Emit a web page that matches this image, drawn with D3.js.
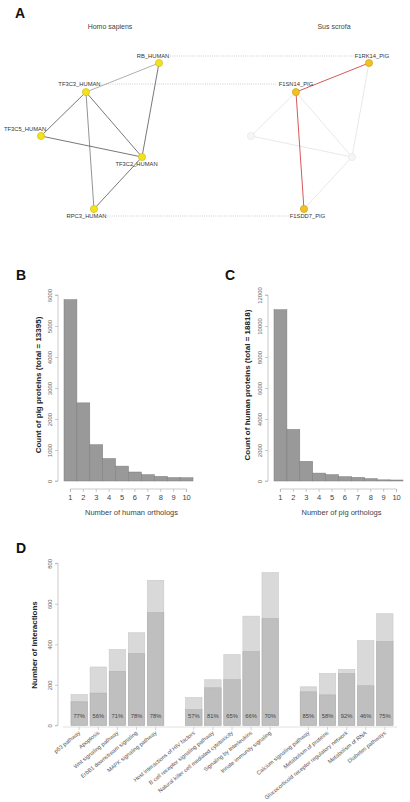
<!DOCTYPE html>
<html><head><meta charset="utf-8">
<script src="https://cdn.jsdelivr.net/npm/d3@7/dist/d3.min.js"></script>
<style>body{margin:0;background:#fff;}svg{display:block;font-family:"Liberation Sans",Arial,sans-serif;}</style>
</head><body>
<script>
// ---------- DATA ----------
// Panel A: network (layout coordinates in unit square)
const humanNodes = ["RB_HUMAN","TF3C3_HUMAN","TF3C5_HUMAN","TF3C2_HUMAN","RPC3_HUMAN"];
const pigNodes   = ["F1RK14_PIG","F1SN14_PIG","","","F1SDD7_PIG"];
const layoutX = [1.0, 0.381, 0.0, 0.856, 0.449];
const layoutY = [0.0, 0.199, 0.5, 0.644, 1.0];
const edges = [[0,1],[0,3],[1,2],[1,3],[1,4],[2,3],[3,4]];
const pigRedEdges = [[1,0],[1,4]];
const orthologPairs = [0,1,4];

// Panel B
const orthologCounts = [1,2,3,4,5,6,7,8,9,10];
const pigProteinCounts = [5850,2520,1170,725,480,290,205,150,110,105];
const pigYTicks = [0,1000,2000,3000,4000,5000,6000];
// Panel C
const humanProteinCounts = [11050,3330,1270,510,410,280,236,155,75,65];
const humanYTicks = [0,2000,4000,6000,8000,10000,12000];

// Panel D
const pathways = ["p53 pathway","Apoptosis","Wnt signaling pathway","ErbB1 downstream signaling","MAPK signaling pathway",
  "Host interactions of HIV factors","B cell receptor signaling pathway","Natural killer cell mediated cytotoxicity","Signaling by Interleukins","Innate immunity signaling",
  "Calcium signaling pathway","Metabolism of proteins","Glucocorticoid receptor regulatory network","Metabolism of RNA","Diabetes pathways"];
const pathwayGroup = [0,0,0,0,0,1,1,1,1,1,2,2,2,2,2];
const totalInteractions = [152,288,374,457,716,137,225,349,539,754,190,256,276,418,551];
const conservedInteractions = [116,159,266,354,556,77,185,225,364,527,165,150,255,195,413];
const percentLabels = ["77%","56%","71%","78%","78%","57%","81%","65%","66%","70%","85%","58%","92%","46%","75%"];
const dYTicks = [0,200,400,600,800];

// ---------- DRAW ----------
const W=410,H=802;
const svg=d3.select("body").append("svg").attr("width",W).attr("height",H);

function panelLabel(t,x,y){svg.append("text").attr("x",x).attr("y",y).attr("font-size",14).attr("font-weight","bold").attr("fill","#111").text(t);}

// ----- Panel A -----
panelLabel("A",15,18);
svg.append("text").attr("x",110).attr("y",29).attr("text-anchor","middle").attr("font-size",7).attr("fill","#444").text("Homo sapiens");
svg.append("text").attr("x",334).attr("y",29).attr("text-anchor","middle").attr("font-size",7).attr("fill","#444").text("Sus scrofa");

const ly=d3.scaleLinear().domain([0,1]).range([63,209]);
const hx=d3.scaleLinear().domain([0,1]).range([41,159]);
const px=d3.scaleLinear().domain([0,1]).range([251,369]);

const gLines=svg.append("g"), gEdges=svg.append("g"), gNodes=svg.append("g"), gLabels=svg.append("g");
const humanEdgeColor = (e)=> (e[0]===0&&e[1]===1)?"#9a9a9a":(e[0]===1&&e[1]===4)?"#777":"#555";
gEdges.selectAll(".he").data(edges).join("line")
  .attr("x1",d=>hx(layoutX[d[0]])).attr("y1",d=>ly(layoutY[d[0]]))
  .attr("x2",d=>hx(layoutX[d[1]])).attr("y2",d=>ly(layoutY[d[1]]))
  .attr("stroke",humanEdgeColor).attr("stroke-width",0.8);
const isRed=(e)=>pigRedEdges.some(r=>(r[0]===e[0]&&r[1]===e[1])||(r[0]===e[1]&&r[1]===e[0]));
gEdges.selectAll(".pe").data(edges.filter(e=>!isRed(e))).join("line")
  .attr("x1",d=>px(layoutX[d[0]])).attr("y1",d=>ly(layoutY[d[0]]))
  .attr("x2",d=>px(layoutX[d[1]])).attr("y2",d=>ly(layoutY[d[1]]))
  .attr("stroke","#e2e2e2").attr("stroke-width",0.8);
gEdges.selectAll(".pr").data(pigRedEdges).join("line")
  .attr("x1",d=>px(layoutX[d[0]])).attr("y1",d=>ly(layoutY[d[0]]))
  .attr("x2",d=>px(layoutX[d[1]])).attr("y2",d=>ly(layoutY[d[1]]))
  .attr("stroke","#d24545").attr("stroke-width",0.9);

gNodes.selectAll(".hn").data(humanNodes).join("circle")
  .attr("cx",(d,i)=>hx(layoutX[i])).attr("cy",(d,i)=>ly(layoutY[i])).attr("r",3.6)
  .attr("fill","#f3e21b").attr("stroke","#c9b818").attr("stroke-width",0.6);
gNodes.selectAll(".pn").data(pigNodes).join("circle")
  .attr("cx",(d,i)=>px(layoutX[i])).attr("cy",(d,i)=>ly(layoutY[i])).attr("r",3.6)
  .attr("fill",d=>d?"#efc121":"#f6f6f6").attr("stroke",d=>d?"#c79c18":"#e4e4e4").attr("stroke-width",0.6);

// label offsets (styling)
const hOff=[[-6,-5],[-6.5,-6],[-16,-5],[-5.5,8.5],[-7.5,9]];
const pOff=[[3,-5],[0,-6.5],[0,0],[0,0],[3.5,9]];
const hLab=gLabels.selectAll(".hl").data(humanNodes).join("text")
  .attr("x",(d,i)=>hx(layoutX[i])+hOff[i][0]).attr("y",(d,i)=>ly(layoutY[i])+hOff[i][1])
  .attr("text-anchor","middle").attr("font-size",5.8).attr("fill","#333").text(d=>d);
const pLab=gLabels.selectAll(".pl").data(pigNodes).join("text")
  .attr("x",(d,i)=>px(layoutX[i])+pOff[i][0]).attr("y",(d,i)=>ly(layoutY[i])+pOff[i][1])
  .attr("text-anchor","middle").attr("font-size",5.8).attr("fill","#333").text(d=>d);
const hN=hLab.nodes(), pN=pLab.nodes();
orthologPairs.forEach(i=>{
  const a=hN[i].getBBox(), b=pN[i].getBBox();
  const y=a.y+a.height/2;
  gLines.append("line").attr("x1",a.x+a.width+1).attr("x2",b.x-1).attr("y1",y).attr("y2",y)
    .attr("stroke","#999").attr("stroke-width",0.6).attr("stroke-dasharray","0.8,1.4");
});

// ----- Histograms -----
function histogram(opt){
  const x=d3.scaleBand().domain(orthologCounts).range(opt.xr).padding(0);
  const y=d3.scaleLinear().domain([0,opt.ymax]).range([481,295]);
  const g=svg.append("g");
  g.selectAll("rect").data(opt.values).join("rect")
    .attr("x",(d,i)=>x(orthologCounts[i])).attr("width",x.bandwidth())
    .attr("y",d=>y(d)).attr("height",d=>y(0)-y(d))
    .attr("fill","#999").attr("stroke","#7c7c7c").attr("stroke-width",0.5);
  const ya=g.append("g").attr("transform",`translate(${opt.yAxisX},0)`)
    .call(d3.axisLeft(y).tickValues(opt.yticks).tickSize(3).tickFormat(d3.format("d")));
  ya.select(".domain").attr("stroke","#aaa").attr("stroke-width",0.6).attr("d",`M-3,${y(0)}H0V${y(opt.ymax)}H-3`);
  ya.selectAll(".tick line").attr("stroke","#aaa").attr("stroke-width",0.6);
  ya.selectAll(".tick text").attr("fill","#666").attr("font-size",6).attr("text-anchor","middle")
    .attr("x",0).attr("y",0).attr("dy",0).attr("transform","translate(-6,0) rotate(-90)");
  const xa=g.append("g").attr("transform","translate(0,489)")
    .call(d3.axisBottom(x).tickSize(3).tickPadding(3));
  const x0=x(1)+x.bandwidth()/2, x1=x(10)+x.bandwidth()/2;
  xa.select(".domain").attr("stroke","#aaa").attr("stroke-width",0.6).attr("d",`M${x0},3V0H${x1}V3`);
  xa.selectAll(".tick line").attr("stroke","#aaa").attr("stroke-width",0.6);
  xa.selectAll(".tick text").attr("fill","#444").attr("font-size",7.5);
  g.append("text").attr("x",(opt.xr[0]+opt.xr[1])/2+3).attr("y",515).attr("text-anchor","middle")
    .attr("font-size",7.5).attr("fill","#444").text(opt.xlabel);
  g.append("text").attr("transform",`translate(${opt.ylabX},${opt.ylabY}) rotate(-90)`).attr("text-anchor","middle")
    .attr("font-size",8).attr("font-weight","bold").attr("fill","#222").text(opt.ylabel);
}
panelLabel("B",16,280);
histogram({xr:[64,193],ymax:6000,values:pigProteinCounts,yticks:pigYTicks,yAxisX:58,
  xlabel:"Number of human orthologs",ylabel:"Count of pig proteins (total = 13395)",ylabX:41,ylabY:385});
panelLabel("C",225,280);
histogram({xr:[274,403],ymax:12000,values:humanProteinCounts,yticks:humanYTicks,yAxisX:268,
  xlabel:"Number of pig orthologs",ylabel:"Count of human proteins (total = 18818)",ylabX:250,ylabY:385});

// ----- Panel D -----
panelLabel("D",16,553);
const slots=[];
pathways.forEach((p,i)=>{ if(i>0 && pathwayGroup[i]!==pathwayGroup[i-1]) slots.push("__gap"+i); slots.push(p); });
const xd=d3.scaleBand().domain(slots).range([69.66,69.66+17*19.1]).paddingInner(0.14).paddingOuter(0.07);
const yd=d3.scaleLinear().domain([0,800]).range([725.3,563.3]);
const gd=svg.append("g");
gd.selectAll(".tot").data(pathways).join("rect")
  .attr("x",d=>xd(d)).attr("width",xd.bandwidth())
  .attr("y",(d,i)=>yd(totalInteractions[i])).attr("height",(d,i)=>yd(0)-yd(totalInteractions[i]))
  .attr("fill","#d9d9d9").attr("stroke","#c9c9c9").attr("stroke-width",0.6);
gd.selectAll(".con").data(pathways).join("rect")
  .attr("x",d=>xd(d)).attr("width",xd.bandwidth())
  .attr("y",(d,i)=>yd(conservedInteractions[i])).attr("height",(d,i)=>yd(0)-yd(conservedInteractions[i]))
  .attr("fill","#bfbfbf").attr("stroke","#ababab").attr("stroke-width",0.5);
gd.selectAll(".pct").data(pathways).join("text")
  .attr("x",d=>xd(d)+xd.bandwidth()/2).attr("y",717.5).attr("text-anchor","middle")
  .attr("font-size",5.8).attr("fill","#444").text((d,i)=>percentLabels[i]);
const yda=gd.append("g").attr("transform","translate(58,0)").call(d3.axisLeft(yd).tickValues(dYTicks).tickSize(3));
yda.select(".domain").attr("stroke","#aaa").attr("stroke-width",0.6).attr("d",`M-3,${yd(0)}H0V${yd(800)}H-3`);
yda.selectAll(".tick line").attr("stroke","#aaa").attr("stroke-width",0.6);
yda.selectAll(".tick text").attr("fill","#666").attr("font-size",6).attr("text-anchor","middle")
  .attr("x",0).attr("y",0).attr("dy",0).attr("transform","translate(-6,0) rotate(-90)");
const xda=gd.append("g").attr("transform","translate(0,727)")
  .call(d3.axisBottom(xd).tickValues(pathways).tickSize(3).tickSizeOuter(0));
xda.select(".domain").attr("stroke","#ccc").attr("stroke-width",0.6)
  .attr("d",`M${xd(pathways[0])-8},0H${xd(pathways[14])+xd.bandwidth()+4}`);
xda.selectAll(".tick line").attr("stroke","#bbb").attr("stroke-width",0.6);
xda.selectAll(".tick text").attr("fill","#555").attr("font-size",5.6).attr("text-anchor","end")
  .attr("x",0).attr("y",0).attr("dy",0).attr("transform","translate(1.5,6.5) rotate(-39)");
gd.append("text").attr("transform","translate(37,645) rotate(-90)").attr("text-anchor","middle")
  .attr("font-size",8).attr("font-weight","bold").attr("fill","#222").text("Number of interactions");
</script>
</body></html>
